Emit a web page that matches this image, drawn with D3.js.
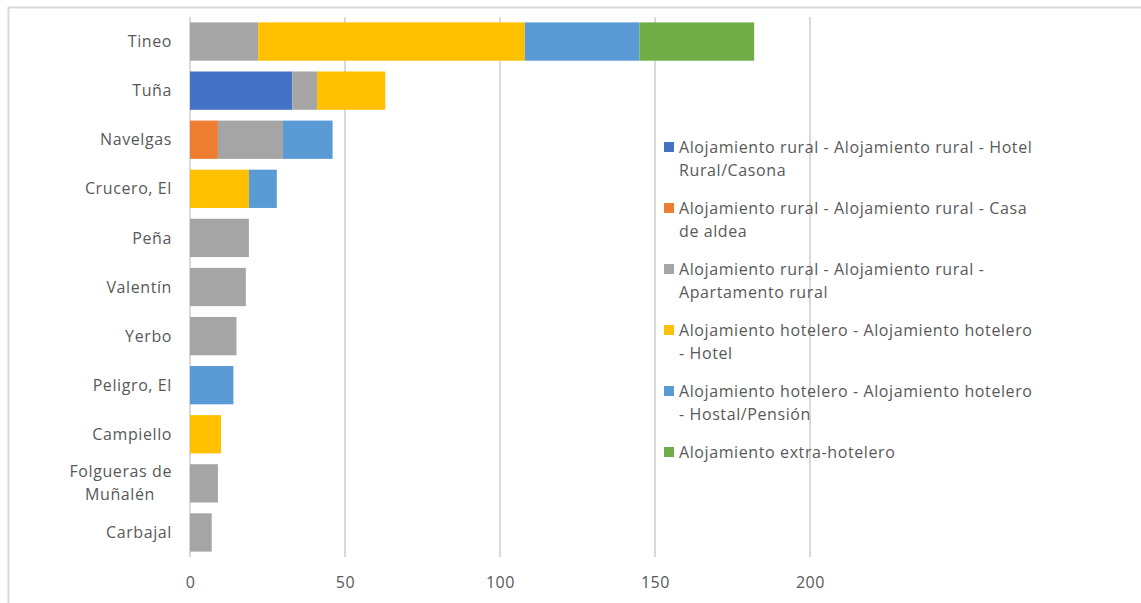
<!DOCTYPE html>
<html>
<head>
<meta charset="utf-8">
<script src="https://cdn.jsdelivr.net/npm/d3@7"></script>
<style>
    body { margin: 0; background: #fff; }
    text { font-family: "Open Sans", "Liberation Sans", sans-serif; fill: #595959; letter-spacing: 0.6px; }
</style>
</head>
<body>
<div id="plot"></div>
<script>
// data
var places = ["Tineo", "Tuña", "Navelgas", "Crucero, El", "Peña", "Valentín",
    "Yerbo", "Peligro, El", "Campiello", "Folgueras de Muñalén", "Carbajal"];

var seriesNames = [
    "Alojamiento rural - Alojamiento rural - Hotel Rural/Casona",
    "Alojamiento rural - Alojamiento rural - Casa de aldea",
    "Alojamiento rural - Alojamiento rural - Apartamento rural",
    "Alojamiento hotelero - Alojamiento hotelero - Hotel",
    "Alojamiento hotelero - Alojamiento hotelero - Hostal/Pensión",
    "Alojamiento extra-hotelero"
];
// legend wrapping as in the picture
var legendLines = [
    ["Alojamiento rural - Alojamiento rural - Hotel", "Rural/Casona"],
    ["Alojamiento rural - Alojamiento rural - Casa", "de aldea"],
    ["Alojamiento rural - Alojamiento rural -", "Apartamento rural"],
    ["Alojamiento hotelero - Alojamiento hotelero", "- Hotel"],
    ["Alojamiento hotelero - Alojamiento hotelero", "- Hostal/Pensión"],
    ["Alojamiento extra-hotelero"]
];
var colors = ["#4472C4", "#ED7D31", "#A5A5A5", "#FFC000", "#5B9BD5", "#70AD47"];

var hotelRural  = [0, 33, 0, 0, 0, 0, 0, 0, 0, 0, 0];
var casaAldea   = [0, 0, 9, 0, 0, 0, 0, 0, 0, 0, 0];
var apartamento = [22, 8, 21, 0, 19, 18, 15, 0, 0, 9, 7];
var hotel       = [86, 22, 0, 19, 0, 0, 0, 0, 10, 0, 0];
var hostal      = [37, 0, 16, 9, 0, 0, 0, 14, 0, 0, 0];
var extra       = [37, 0, 0, 0, 0, 0, 0, 0, 0, 0, 0];
var xTicks = [0, 50, 100, 150, 200];

var svgWidth = 1141, svgHeight = 603;

var svg = d3.select("#plot")
    .append("svg")
    .attr("width", svgWidth)
    .attr("height", svgHeight);

// chart frame (top and left edges only show)
svg.append("path")
    .attr("d", "M8.5,603 V7.5 H1141")
    .attr("fill", "none")
    .attr("stroke", "#d9d9d9")
    .attr("stroke-width", 2);

// build table for the stack
var keys = ["hotelRural", "casaAldea", "apartamento", "hotel", "hostal", "extra"];
var cols = [hotelRural, casaAldea, apartamento, hotel, hostal, extra];
var table = places.map(function (p, i) {
    var row = { place: p };
    keys.forEach((k, j) => row[k] = cols[j][i]);
    return row;
});
var stacked = d3.stack().keys(keys)(table);

var xScale = d3.scaleLinear().domain([0, 200]).range([190, 810]);
var yScale = d3.scaleBand().domain(places).range([17, 557]).paddingInner(0.22).paddingOuter(0.11);

// gridlines
svg.append("g")
    .selectAll("line")
    .data(xTicks)
    .enter()
    .append("line")
    .attr("x1", d => xScale(d))
    .attr("x2", d => xScale(d))
    .attr("y1", 17)
    .attr("y2", 557)
    .attr("stroke", "#d9d9d9")
    .attr("stroke-width", 2);

// bars
svg.append("g")
    .selectAll("g")
    .data(stacked)
    .enter()
    .append("g")
    .attr("fill", (d, i) => colors[i])
    .selectAll("rect")
    .data(d => d.filter(s => s[1] > s[0]))
    .enter()
    .append("rect")
    .attr("x", d => xScale(d[0]))
    .attr("width", d => xScale(d[1]) - xScale(d[0]))
    .attr("y", d => yScale(d.data.place))
    .attr("height", yScale.bandwidth());

// x axis labels
var bottomAxis = d3.axisBottom(xScale).tickValues(xTicks).tickSize(0).tickPadding(0);
var xAxisG = svg.append("g")
    .attr("transform", "translate(0, 582)")
    .call(bottomAxis);
xAxisG.select(".domain").remove();
xAxisG.selectAll("text")
    .attr("font-size", "16px")
    .attr("fill", "#595959")
    .attr("font-family", null)
    .attr("dy", "0.35em");

// y labels, with wrap for the long one
var catLines = { "Folgueras de Muñalén": ["Folgueras de", "Muñalén"] };
var leftG = svg.append("g");
places.forEach(function (p) {
    var lines = catLines[p] || [p];
    var cy = yScale(p) + yScale.bandwidth() / 2;
    var t = leftG.append("text")
        .attr("text-anchor", "end")
        .attr("font-size", "16px");
    lines.forEach(function (l, i) {
        t.append("tspan")
            .attr("x", l === "Muñalén" ? 155 : 172)
            .attr("y", cy + (i - (lines.length - 1) / 2) * 23)
            .attr("dy", "0.35em")
            .text(l);
    });
});

// legend
var legendG = svg.append("g");
var legendTop = [147, 208, 269, 330, 391, 452];
seriesNames.forEach(function (name, i) {
    legendG.append("rect")
        .attr("x", 664)
        .attr("y", legendTop[i] - 5)
        .attr("width", 10)
        .attr("height", 10)
        .attr("fill", colors[i]);
    var t = legendG.append("text")
        .attr("font-size", "16px");
    legendLines[i].forEach(function (l, j) {
        t.append("tspan")
            .attr("x", 679)
            .attr("y", legendTop[i] + j * 23)
            .attr("dy", "0.35em")
            .text(l);
    });
});
</script>
</body>
</html>
